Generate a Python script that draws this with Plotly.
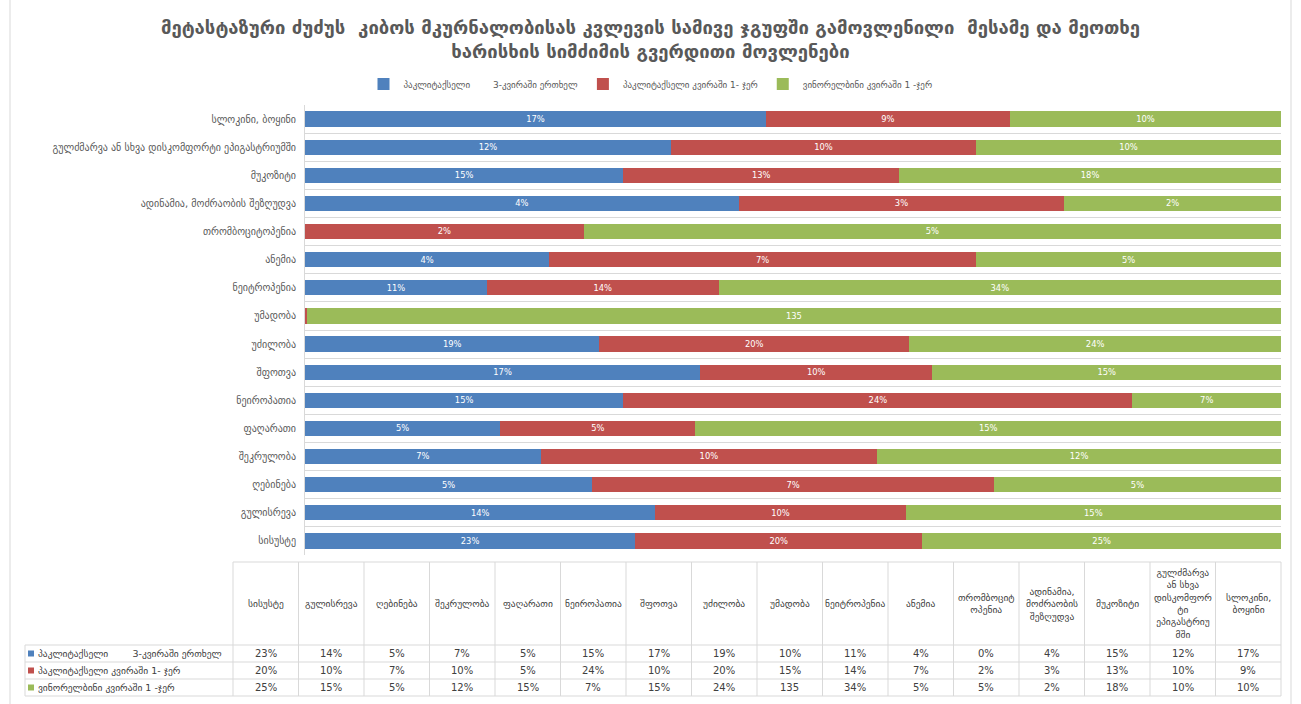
import plotly.graph_objects as go

W, H = 1301, 704

categories = [
    "სისუსტე", "გულისრევა", "ღებინება", "შეკრულობა", "ფაღარათი", "ნეიროპათია",
    "შფოთვა", "უძილობა", "უმადობა", "ნეიტროპენია", "ანემია", "თრომბოციტოპენია",
    "ადინამია, მოძრაობის შეზღუდვა", "მუკოზიტი",
    "გულძმარვა ან სხვა დისკომფორტი ეპიგასტრიუმში", "სლოკინი, ბოყინი",
]
table_headers = [
    "სისუსტე", "გულისრევა", "ღებინება", "შეკრულობა", "ფაღარათი", "ნეიროპათია",
    "შფოთვა", "უძილობა", "უმადობა", "ნეიტროპენია", "ანემია", "თრომბოციტ<br>ოპენია",
    "ადინამია,<br>მოძრაობის<br>შეზღუდვა", "მუკოზიტი",
    "გულძმარვა<br>ან სხვა<br>დისკომფორ<br>ტი<br>ეპიგასტრიუ<br>მში", "სლოკინი,<br>ბოყინი",
]
series_names = [
    "პაკლიტაქსელი\u00a0\u00a0\u00a0\u00a0\u00a0\u00a0\u00a0\u00a03-კვირაში ერთხელ",
    "პაკლიტაქსელი კვირაში 1- ჯერ",
    "ვინორელბინი კვირაში 1 -ჯერ",
]
paclitaxel_3w = [0.23, 0.14, 0.05, 0.07, 0.05, 0.15, 0.17, 0.19, 0.10, 0.11, 0.04, 0.00, 0.04, 0.15, 0.12, 0.17]
paclitaxel_1w = [0.20, 0.10, 0.07, 0.10, 0.05, 0.24, 0.10, 0.20, 0.15, 0.14, 0.07, 0.02, 0.03, 0.13, 0.10, 0.09]
vinorelbine_1w = [0.25, 0.15, 0.05, 0.12, 0.15, 0.07, 0.15, 0.24, 135, 0.34, 0.05, 0.05, 0.02, 0.18, 0.10, 0.10]
series_values = [paclitaxel_3w, paclitaxel_1w, vinorelbine_1w]
colors = ["#4F81BD", "#C0504D", "#9BBB59"]


def fmt(v):
    return f"{round(v * 100)}%" if v <= 1 else f"{v:g}"


FONT = "DejaVu Sans, Liberation Sans, sans-serif"
TXT = "#595959"

fig = go.Figure()
for name, vals, col in zip(series_names, series_values, colors):
    fig.add_trace(go.Bar(
        y=categories, x=vals, name=name, orientation="h",
        marker=dict(color=col, line=dict(width=0)),
        text=[fmt(v) for v in vals], textposition="inside",
        insidetextanchor="middle",
        textfont=dict(color="white", size=10, family=FONT),
    ))

# plot area in pixels
px0, px1 = 305, 1281
py_top, py_bot = 105, 555


def X(p):
    return p / W


def Y(p):
    return 1 - p / H


fig.update_layout(
    width=W, height=H,
    barmode="stack", barnorm="percent", bargap=0.46,
    margin=dict(l=0, r=0, t=0, b=0),
    paper_bgcolor="white", plot_bgcolor="white",
    font=dict(family=FONT, color=TXT),
    uniformtext=dict(minsize=8, mode="hide"),
    title=dict(
        text="მეტასტაზური ძუძუს  კიბოს მკურნალობისას კვლევის სამივე ჯგუფში გამოვლენილი  მესამე და მეოთხე<br>ხარისხის სიმძიმის გვერდითი მოვლენები",
        x=0.5, xanchor="center", y=Y(34), yanchor="top",
        font=dict(size=18.5, color=TXT, family=FONT, weight="bold"),
    ),
    legend=dict(
        orientation="h", x=0.5, xanchor="center", y=Y(84), yanchor="middle",
        font=dict(size=9, color=TXT), traceorder="normal",
        itemwidth=30, bgcolor="rgba(0,0,0,0)",
    ),
    xaxis=dict(domain=[X(px0), X(px1)], range=[0, 100], showgrid=False,
               showticklabels=False, zeroline=False, showline=False, fixedrange=True),
    yaxis=dict(domain=[Y(py_bot), Y(py_top)], type="category",
               categoryorder="array", categoryarray=categories,
               tickson="boundaries", showgrid=True, gridcolor="#D9D9D9", gridwidth=1,
               showline=True, linecolor="#D9D9D9", ticks="", ticklabelstandoff=6,
               tickfont=dict(size=10, color=TXT)),
)

# ---- data table below the chart ----
shapes = []
annots = []
tx0, tx1 = 233, 1281
lab_x0 = 25
ncol = len(categories)
colw = (tx1 - tx0) / ncol
hdr_top, hdr_bot = 562, 645
row_h = 17
rows_y = [hdr_bot + i * row_h for i in range(len(series_names) + 1)]
line = dict(color="#D9D9D9", width=1)

shapes.append(dict(type="line", xref="paper", yref="paper", x0=X(tx0), x1=X(tx1),
                   y0=Y(hdr_top), y1=Y(hdr_top), line=line))
for yy in rows_y:
    shapes.append(dict(type="line", xref="paper", yref="paper", x0=X(lab_x0), x1=X(tx1),
                       y0=Y(yy), y1=Y(yy), line=line))
for j in range(ncol + 1):
    xx = tx0 + j * colw
    shapes.append(dict(type="line", xref="paper", yref="paper", x0=X(xx), x1=X(xx),
                       y0=Y(hdr_top), y1=Y(rows_y[-1]), line=line))
shapes.append(dict(type="line", xref="paper", yref="paper", x0=X(lab_x0), x1=X(lab_x0),
                   y0=Y(hdr_bot), y1=Y(rows_y[-1]), line=line))
# chart frame edges
for xx in (10, 1291):
    shapes.append(dict(type="line", xref="paper", yref="paper", x0=X(xx), x1=X(xx),
                       y0=0, y1=1, line=dict(color="#D9D9D9", width=1)))

for j, h in enumerate(table_headers):
    annots.append(dict(xref="paper", yref="paper", x=X(tx0 + (j + 0.5) * colw),
                       y=Y((hdr_top + hdr_bot) / 2), text=h, showarrow=False,
                       xanchor="center", yanchor="middle", align="center",
                       font=dict(size=9.5, color="#404040")))
for i, (name, vals, col) in enumerate(zip(series_names, series_values, colors)):
    yc = Y(rows_y[i] + row_h / 2)
    shapes.append(dict(type="rect", xref="paper", yref="paper",
                       x0=X(28), x1=X(34), y0=Y(rows_y[i] + row_h / 2 + 3),
                       y1=Y(rows_y[i] + row_h / 2 - 3), fillcolor=col, line=dict(width=0)))
    annots.append(dict(xref="paper", yref="paper", x=X(36), y=yc, text=name,
                       showarrow=False, xanchor="left", yanchor="middle",
                       font=dict(size=9.5, color="#404040")))
    for j, v in enumerate(vals):
        annots.append(dict(xref="paper", yref="paper", x=X(tx0 + (j + 0.5) * colw), y=yc,
                           text=fmt(v), showarrow=False, xanchor="center", yanchor="middle",
                           font=dict(size=10, color="#404040")))

fig.update_layout(shapes=shapes, annotations=annots)
fig.write_html("out.html", config={"displayModeBar": False},
               post_script="document.body.style.margin='0';")
